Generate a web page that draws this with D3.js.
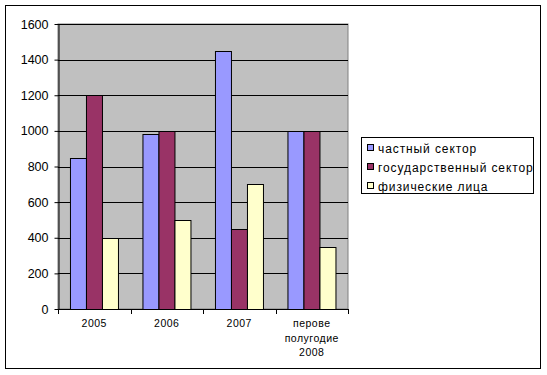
<!DOCTYPE html>
<html>
<head>
<meta charset="utf-8">
<script src="https://cdn.jsdelivr.net/npm/d3@7"></script>
<style>
  body { margin: 0; background: #fff; }
  text { font-family: Arial, "Liberation Sans", sans-serif; fill: #000; }
</style>
</head>
<body>
<div id="chart"></div>
<script>
// data
const categories = ["2005", "2006", "2007", "перове полугодие 2008"];
const categoryLines = [["2005"], ["2006"], ["2007"], ["перове", "полугодие", "2008"]];
const seriesNames = ["частный сектор", "государственный сектор", "физические лица"];
const privateSector = [850, 980, 1450, 1000];
const stateSector = [1200, 1000, 450, 1000];
const individuals = [400, 500, 700, 350];
const yTicks = [0, 200, 400, 600, 800, 1000, 1200, 1400, 1600];
const colors = ["#9999FF", "#993366", "#FFFFCC"];

const width = 547, height = 375;
const plot = { left: 58, top: 24, right: 348, bottom: 309 };

const svg = d3.select("#chart").append("svg")
  .attr("width", width).attr("height", height);

// outer frame
svg.append("rect")
  .attr("x", 5.5).attr("y", 5.5).attr("width", 535).attr("height", 363)
  .attr("fill", "#fff").attr("stroke", "#000").attr("stroke-width", 1);

const rows = categories.map((c, i) => ({
  cat: c, vals: [privateSector[i], stateSector[i], individuals[i]]
}));

const x0 = d3.scaleBand().domain(categories)
  .range([plot.left, plot.right]).paddingInner(0.33).paddingOuter(0.165);
const x1 = d3.scaleBand().domain([0, 1, 2]).range([0, x0.bandwidth()]);
const y = d3.scaleLinear().domain([0, 1600]).range([plot.bottom, plot.top]);

// plot background
svg.append("rect")
  .attr("x", plot.left).attr("y", plot.top)
  .attr("width", plot.right - plot.left).attr("height", plot.bottom - plot.top)
  .attr("fill", "#C0C0C0").attr("stroke", "#808080");

// gridlines
svg.append("g").selectAll("line").data(yTicks.filter(t => t > 0)).enter()
  .append("line")
  .attr("x1", plot.left).attr("x2", plot.right)
  .attr("y1", d => Math.round(y(d)) + 0.5).attr("y2", d => Math.round(y(d)) + 0.5)
  .attr("stroke", "#000");

// bars
const groups = svg.selectAll(".cat").data(rows).enter().append("g")
  .attr("class", "cat")
  .attr("transform", d => `translate(${x0(d.cat)},0)`);
groups.selectAll("rect").data(d => d.vals.map((v, i) => ({ v, i }))).enter()
  .append("rect")
  .attr("x", d => Math.round(x1(d.i)) + 0.5)
  .attr("y", d => Math.round(y(d.v)) + 0.5)
  .attr("width", Math.round(x1.bandwidth()))
  .attr("height", d => Math.round(y(0)) - Math.round(y(d.v)))
  .attr("fill", d => colors[d.i])
  .attr("stroke", "#000");

// y axis
const yAxis = d3.axisLeft(y).tickValues(yTicks).tickFormat(d3.format("d"))
  .tickSize(4).tickSizeOuter(0).tickPadding(6);
const ya = svg.append("g").attr("transform", `translate(${plot.left + 0.5},0)`).call(yAxis);
ya.selectAll("text").style("font-size", "12.5px");
ya.select(".domain").attr("stroke", "#000");

// x axis
const bounds = d3.range(categories.length + 1).map(i => plot.left + i * (plot.right - plot.left) / categories.length);
const xa = svg.append("g");
xa.append("line")
  .attr("x1", plot.left).attr("x2", plot.right)
  .attr("y1", plot.bottom + 0.5).attr("y2", plot.bottom + 0.5).attr("stroke", "#000");
xa.selectAll(".tk").data(bounds).enter().append("line")
  .attr("x1", d => Math.round(d) + 0.5).attr("x2", d => Math.round(d) + 0.5)
  .attr("y1", plot.bottom).attr("y2", plot.bottom + 5).attr("stroke", "#000");
xa.selectAll(".lbl").data(rows).enter().append("text")
  .attr("text-anchor", "middle")
  .attr("x", (d, i) => x0(d.cat) + x0.bandwidth() / 2)
  .attr("y", 327)
  .style("font-size", "10.5px")
  .style("letter-spacing", "0.5px")
  .selectAll("tspan").data((d, i) => categoryLines[i]).enter().append("tspan")
  .attr("x", function () { return d3.select(this.parentNode).attr("x"); })
  .attr("dy", (d, j) => j === 0 ? 0 : 14.5)
  .text(d => d);

// legend
const lg = svg.append("g");
lg.append("rect").attr("x", 361.5).attr("y", 137.5).attr("width", 172).attr("height", 56)
  .attr("fill", "#fff").attr("stroke", "#000");
const items = lg.selectAll(".li").data(seriesNames).enter().append("g")
  .attr("transform", (d, i) => `translate(367,${148 + i * 19})`);
items.append("rect").attr("x", 0.5).attr("y", -3.5).attr("width", 6).attr("height", 6)
  .attr("fill", (d, i) => colors[i]).attr("stroke", "#000");
items.append("text").attr("x", 11).attr("y", 4.5).style("font-size", "12px")
  .style("letter-spacing", "0.9px").text(d => d);
</script>
</body>
</html>
